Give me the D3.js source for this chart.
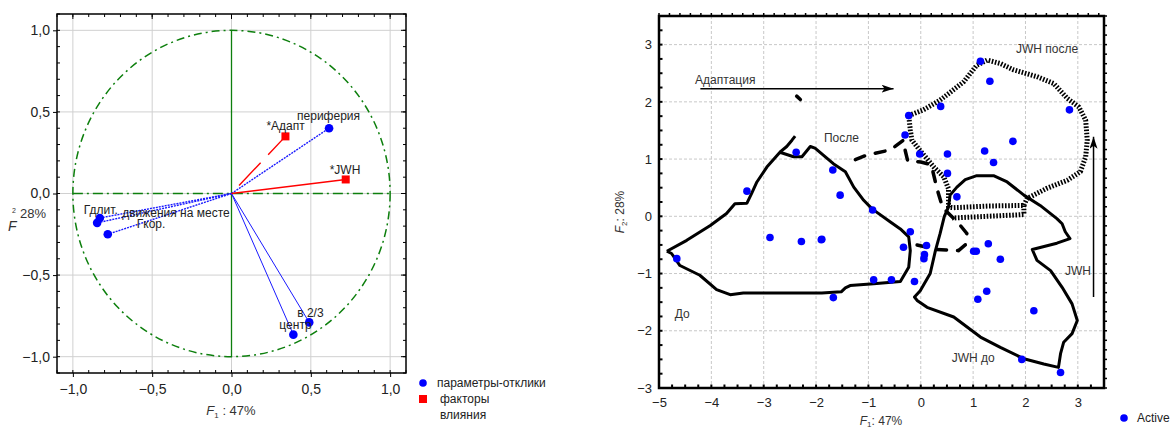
<!DOCTYPE html>
<html><head><meta charset="utf-8">
<script src="https://cdn.jsdelivr.net/npm/d3@7"></script>
<style>
body{margin:0;background:#fff;}
svg{display:block;font-family:"Liberation Sans",Arial,sans-serif;}
</style></head>
<body><svg id="c" width="1172" height="431"></svg>
<script>
// ---------- Left panel data (factor loadings) ----------
const respNames = ["периферия","Гдлит.","движения на месте","Гкор.","в 2/3","центр"];
const respF1 = [0.615,-0.83,-0.847,-0.78,0.49,0.39];
const respF2 = [0.40,-0.15,-0.18,-0.25,-0.79,-0.865];
const factNames = ["*Адапт","*JWH"];
const factF1 = [0.34,0.72];
const factF2 = [0.35,0.086];
const leftTicks = [-1.0,-0.5,0.0,0.5,1.0];
const legendLeft = ["параметры-отклики","факторы","влияния"];

// ---------- Right panel data (scores) ----------
const activeF1 = [1.14,1.32,0.38,2.84,-0.23,-0.30,1.76,1.22,-0.02,0.51,1.39,0.51,0.69,
  -1.68,-1.54,-0.92,-1.89,-0.20,-0.33,0.11,0.06,0.07,-0.90,-0.56,-0.12,-1.67,
  1.01,1.06,1.29,1.52,1.26,1.09,2.16,1.93,2.67,-4.66,-2.88,-2.28,-1.90,-3.32,-2.38];
const activeF2 = [2.71,2.36,1.92,1.86,1.76,1.42,1.31,1.14,1.09,1.09,0.94,0.75,0.34,
  0.81,0.37,0.11,-0.40,-0.27,-0.54,-0.51,-0.74,-0.67,-1.11,-1.11,-1.14,-1.42,
  -0.61,-0.61,-0.48,-0.75,-1.31,-1.45,-1.65,-2.50,-2.73,-0.74,-0.37,-0.44,-0.41,0.44,1.12];
const rightXTicks = [-5,-4,-3,-2,-1,0,1,2,3];
const rightYTicks = [-3,-2,-1,0,1,2,3];

// outlines (F1, F2)
const outlineDo = [[-4.85,-0.61],[-4.47,-0.42],[-4.02,-0.16],[-3.71,0.05],[-3.55,0.22],[-3.32,0.23],[-3.23,0.40],[-3.13,0.60],[-2.94,0.86],[-2.69,1.12],[-2.43,1.04],[-2.27,1.04],[-2.11,1.22],[-2.02,1.19],[-1.67,0.92],[-1.44,0.78],[-1.28,0.51],[-1.09,0.28],[-0.93,0.13],[-0.58,-0.10],[-0.39,-0.22],[-0.23,-0.36],[-0.20,-0.60],[-0.23,-0.89],[-0.39,-1.14],[-0.90,-1.18],[-1.35,-1.21],[-1.44,-1.25],[-1.52,-1.32],[-1.89,-1.34],[-3.39,-1.34],[-3.64,-1.37],[-3.90,-1.28],[-4.22,-1.03],[-4.60,-0.86],[-4.76,-0.65],[-4.85,-0.61]];
const outlineDoStub = [[-2.69,1.12],[-2.56,1.22],[-2.46,1.33],[-2.40,1.40]];
const outlineJwhDo = [[0.56,0.37],[0.69,0.51],[0.85,0.64],[1.07,0.71],[1.39,0.71],[1.65,0.60],[1.97,0.37],[2.28,0.19],[2.60,-0.04],[2.70,-0.13],[2.76,-0.27],[2.85,-0.39],[2.60,-0.47],[2.13,-0.58],[2.22,-0.77],[2.48,-0.95],[2.70,-1.24],[2.89,-1.53],[2.99,-1.82],[2.89,-2.05],[2.73,-2.20],[2.67,-2.40],[2.63,-2.64],[2.35,-2.58],[1.97,-2.49],[1.52,-2.29],[1.14,-2.11],[0.63,-1.76],[0.12,-1.59],[-0.07,-1.47],[-0.12,-1.41],[-0.01,-1.30],[0.18,-1.00],[0.28,-0.60],[0.37,-0.30],[0.45,0.0],[0.53,0.16],[0.56,0.37]];
const outlineAfter = [[-1.25,0.99],[-1.03,1.07],[-0.58,1.16],[-0.33,1.33],[-0.30,1.16],[-0.25,0.97],[0.0,0.95],[0.2,0.9],[0.32,0.45],[0.42,0.15],[0.72,-0.12],[0.88,-0.30],[0.85,-0.50],[0.72,-0.60],[0.30,-0.58],[-0.07,-0.50]];
const outlineAfterBit = [[-2.37,2.10],[-2.30,2.04]];
const outlineJwhAfter = [[-0.23,1.76],[0.05,1.86],[0.37,2.03],[0.82,2.35],[1.07,2.64],[1.27,2.73],[1.52,2.67],[1.77,2.56],[2.22,2.44],[2.54,2.32],[2.80,2.06],[3.02,1.91],[3.15,1.68],[3.18,1.33],[3.15,1.04],[3.05,0.78],[2.80,0.63],[2.41,0.49],[2.03,0.31],[1.97,0.19],[1.30,0.18],[0.62,0.15],[0.53,0.16],[0.53,0.48],[0.44,0.69],[0.25,0.86],[-0.04,1.18],[-0.17,1.33],[-0.20,1.51],[-0.23,1.76]];
const outlineJwhAfterBand = [[1.97,0.19],[1.97,0.03],[1.27,0.0],[0.60,-0.03]];
const arrowAdaptF1 = [-4.21,-0.52], arrowAdaptF2 = [2.23,2.23];
const arrowJwhF1 = [3.30,3.30], arrowJwhF2 = [-1.41,1.39];
const notesText = ["Адаптация","После","JWH после","До","JWH до","JWH"];
const notesF1 = [-4.31,-1.85,1.82,-4.70,0.59,3.25];
const notesF2 = [2.31,1.30,2.86,-1.78,-2.55,-1.03];

const svg = d3.select("#c");
const FONT = "Liberation Sans, Arial, sans-serif";
const comma = v => d3.format(".1f")(v).replace(".",",");

// ================= LEFT PANEL =================
const lx = d3.scaleLinear([-1.1,1.1],[57,406]);
const ly = d3.scaleLinear([-1.1,1.1],[373,14]);
const L = svg.append("g");
L.selectAll(".gx").data(leftTicks).join("line")
  .attr("x1",d=>lx(d)).attr("x2",d=>lx(d)).attr("y1",ly(1.1)).attr("y2",ly(-1.1))
  .attr("stroke","#d0d0d0").attr("stroke-width",1);
L.selectAll(".gy").data(leftTicks).join("line")
  .attr("y1",d=>ly(d)).attr("y2",d=>ly(d)).attr("x1",lx(-1.1)).attr("x2",lx(1.1))
  .attr("stroke","#d0d0d0").attr("stroke-width",1);
const minorL = d3.range(-11,12).map(i=>i/10);
L.selectAll(".mtl").data(minorL).join("line").attr("x1",lx(-1.1)).attr("x2",lx(-1.1)+3).attr("y1",d=>ly(d)).attr("y2",d=>ly(d)).attr("stroke","#000");
L.selectAll(".mtr").data(minorL).join("line").attr("x1",lx(1.1)).attr("x2",lx(1.1)-3).attr("y1",d=>ly(d)).attr("y2",d=>ly(d)).attr("stroke","#000");
L.selectAll(".mtb").data(minorL).join("line").attr("y1",ly(-1.1)).attr("y2",ly(-1.1)-3).attr("x1",d=>lx(d)).attr("x2",d=>lx(d)).attr("stroke","#000");
L.selectAll(".mtt").data(minorL).join("line").attr("y1",ly(1.1)).attr("y2",ly(1.1)+3).attr("x1",d=>lx(d)).attr("x2",d=>lx(d)).attr("stroke","#000");
const laxL = L.append("g").attr("transform",`translate(${lx(-1.1)},0)`)
  .call(d3.axisLeft(ly).tickValues(leftTicks).tickFormat(comma).tickSize(4).tickPadding(3));
const laxB = L.append("g").attr("transform",`translate(0,${ly(-1.1)})`)
  .call(d3.axisBottom(lx).tickValues(leftTicks).tickFormat(comma).tickSize(4).tickPadding(7));
[laxL,laxB].forEach(a=>{a.select(".domain").remove();a.selectAll("text").attr("font-size",14).attr("fill","#222").attr("font-family",FONT);a.selectAll("line").attr("stroke","#000");});
L.selectAll(".Mr").data(leftTicks).join("line").attr("x1",lx(1.1)).attr("x2",lx(1.1)-5).attr("y1",d=>ly(d)).attr("y2",d=>ly(d)).attr("stroke","#000");
L.selectAll(".Mt").data(leftTicks).join("line").attr("y1",ly(1.1)).attr("y2",ly(1.1)+5).attr("x1",d=>lx(d)).attr("x2",d=>lx(d)).attr("stroke","#000");
L.append("rect").attr("x",lx(-1.1)).attr("y",ly(1.1)).attr("width",lx(1.1)-lx(-1.1)).attr("height",ly(-1.1)-ly(1.1))
  .attr("fill","none").attr("stroke","#000").attr("stroke-width",1.5);
const G = "#0d7f0d";
L.append("ellipse").attr("cx",lx(0)).attr("cy",ly(0)).attr("rx",lx(1)-lx(0)).attr("ry",ly(0)-ly(1))
  .attr("fill","none").attr("stroke",G).attr("stroke-width",1.5).attr("stroke-dasharray","8,4,2,4");
L.append("line").attr("x1",lx(-1)).attr("x2",lx(1)).attr("y1",ly(0)).attr("y2",ly(0))
  .attr("stroke",G).attr("stroke-width",1.5).attr("stroke-dasharray","10,4,2,4");
L.append("line").attr("x1",lx(0)).attr("x2",lx(0)).attr("y1",ly(1)).attr("y2",ly(-1))
  .attr("stroke",G).attr("stroke-width",1.3);
const solidResp = new Set(["в 2/3","центр"]);
L.selectAll(".rv").data(respNames).join("line")
  .attr("x1",lx(0)).attr("y1",ly(0)).attr("x2",(d,i)=>lx(respF1[i])).attr("y2",(d,i)=>ly(respF2[i]))
  .attr("stroke","#1a1aff").attr("stroke-width",d=>solidResp.has(d)?1:1.4)
  .attr("stroke-dasharray",d=>solidResp.has(d)?null:"2,1");
factNames.forEach((n,i)=>{
  const x2=lx(factF1[i]), y2=ly(factF2[i]);
  const len=Math.hypot(x2-lx(0),y2-ly(0));
  L.append("line").attr("x1",lx(0)).attr("y1",ly(0)).attr("x2",x2).attr("y2",y2)
   .attr("stroke","#ff0000").attr("stroke-width",1.4)
   .attr("stroke-dasharray", n==="*Адапт" ? `0,${len*0.14},${len*0.4},${len*0.14},${len*0.4}` : null);
});
L.selectAll(".rp").data(respNames).join("circle")
  .attr("cx",(d,i)=>lx(respF1[i])).attr("cy",(d,i)=>ly(respF2[i])).attr("r",4.3).attr("fill","#0000ff");
L.selectAll(".fp").data(factNames).join("rect")
  .attr("x",(d,i)=>lx(factF1[i])-4).attr("y",(d,i)=>ly(factF2[i])-4).attr("width",8).attr("height",8).attr("fill","#ff0000");
const respOff = {"периферия":[-32,-8],"Гдлит.":[-16,-4],"движения на месте":[25,-6],"Гкор.":[29,-6],"в 2/3":[-12,-5],"центр":[-14,-6]};
const factOff = {"*Адапт":[-19,-6],"*JWH":[-16,-5]};
L.selectAll(".rl").data(respNames).join("text")
  .attr("x",(d,i)=>lx(respF1[i])+respOff[d][0]).attr("y",(d,i)=>ly(respF2[i])+respOff[d][1])
  .attr("font-size",12).attr("fill","#222").text(d=>d);
L.selectAll(".fl").data(factNames).join("text")
  .attr("x",(d,i)=>lx(factF1[i])+factOff[d][0]).attr("y",(d,i)=>ly(factF2[i])+factOff[d][1])
  .attr("font-size",12).attr("fill","#222").text(d=>d);
const xt = L.append("text").attr("x",231).attr("y",415).attr("text-anchor","middle").attr("font-size",13).attr("fill","#333");
xt.append("tspan").attr("font-style","italic").text("F");
xt.append("tspan").attr("font-size",8).attr("dy",3).text("1");
xt.append("tspan").attr("dy",-3).text(" : 47%");
L.append("text").attr("x",12).attr("y",213).attr("font-size",7).attr("fill","#333").text("2");
L.append("text").attr("x",20).attr("y",218).attr("font-size",13).attr("fill","#333").text("28%");
L.append("text").attr("x",8).attr("y",231).attr("font-size",14).attr("font-style","italic").attr("fill","#333").text("F");
L.append("circle").attr("cx",423).attr("cy",383).attr("r",3.8).attr("fill","#0000ff");
L.append("rect").attr("x",419).attr("y",395).attr("width",8).attr("height",8).attr("fill","#ff0000");
L.append("text").attr("x",437).attr("y",387).attr("font-size",12).attr("fill","#222").text(legendLeft[0]);
L.append("text").attr("x",440).attr("y",403).attr("font-size",12).attr("fill","#222").text(legendLeft[1]);
L.append("text").attr("x",440).attr("y",419).attr("font-size",12).attr("fill","#222").text(legendLeft[2]);

// ================= RIGHT PANEL =================
const rx = d3.scaleLinear([-5,3.5],[659,1104]);
const ry = d3.scaleLinear([-3,3.5],[388,16]);
const R = svg.append("g");
R.selectAll(".gx").data(rightXTicks.slice(1)).join("line")
  .attr("x1",d=>rx(d)).attr("x2",d=>rx(d)).attr("y1",ry(3.5)).attr("y2",ry(-3))
  .attr("stroke","#c8c8c8").attr("stroke-dasharray","3,2");
R.selectAll(".gy").data(rightYTicks.slice(1)).join("line")
  .attr("y1",d=>ry(d)).attr("y2",d=>ry(d)).attr("x1",rx(-5)).attr("x2",rx(3.5))
  .attr("stroke","#c8c8c8").attr("stroke-dasharray","3,2");
const mxB = d3.range(-20,15).map(i=>i/4), myL = d3.range(-12,15).map(i=>i/4);
const mxT = d3.range(-25,18).map(i=>i/5), myR = d3.range(-18,22).map(i=>i/6);
R.selectAll(".tb").data(mxB).join("line").attr("x1",d=>rx(d)).attr("x2",d=>rx(d)).attr("y1",ry(-3)).attr("y2",ry(-3)-3.5).attr("stroke","#000").attr("stroke-width",2);
R.selectAll(".tl").data(myL).join("line").attr("y1",d=>ry(d)).attr("y2",d=>ry(d)).attr("x1",rx(-5)).attr("x2",rx(-5)+3.5).attr("stroke","#000").attr("stroke-width",2);
R.selectAll(".tt").data(mxT).join("line").attr("x1",d=>rx(d)).attr("x2",d=>rx(d)).attr("y1",ry(3.5)).attr("y2",ry(3.5)-3).attr("stroke","#000").attr("stroke-width",1.5);
R.selectAll(".tr").data(myR).join("line").attr("y1",d=>ry(d)).attr("y2",d=>ry(d)).attr("x1",rx(3.5)).attr("x2",rx(3.5)+3).attr("stroke","#000").attr("stroke-width",1.5);
const raxL = R.append("g").attr("transform",`translate(${rx(-5)},0)`)
  .call(d3.axisLeft(ry).tickValues(rightYTicks).tickFormat(d3.format("d")).tickSize(0).tickPadding(7));
const raxB = R.append("g").attr("transform",`translate(0,${ry(-3)})`)
  .call(d3.axisBottom(rx).tickValues(rightXTicks).tickFormat(d3.format("d")).tickSize(0).tickPadding(10));
[raxL,raxB].forEach(a=>{a.select(".domain").remove();a.selectAll("text").attr("font-size",13).attr("fill","#222").attr("font-family",FONT);});
R.append("rect").attr("x",rx(-5)).attr("y",ry(3.5)).attr("width",rx(3.5)-rx(-5)).attr("height",ry(-3)-ry(3.5))
  .attr("fill","none").attr("stroke","#000").attr("stroke-width",2.5);

const lineS = d3.line().x(d=>rx(d[0])).y(d=>ry(d[1]));
[outlineJwhAfter,outlineJwhAfterBand].forEach(p=>
  R.append("path").attr("d",lineS(p)).attr("fill","none").attr("stroke","#000").attr("stroke-width",5)
   .attr("stroke-dasharray","1.6,1.6").attr("stroke-linejoin","round"));
[outlineAfter,outlineAfterBit].forEach(p=>
  R.append("path").attr("d",lineS(p)).attr("fill","none").attr("stroke","#000").attr("stroke-width",3.5)
   .attr("stroke-dasharray","10,11").attr("stroke-linecap","round"));
[outlineDo,outlineDoStub,outlineJwhDo].forEach(p=>
  R.append("path").attr("d",lineS(p)).attr("fill","none").attr("stroke","#000").attr("stroke-width",3)
   .attr("stroke-linejoin","round"));
const defs = svg.append("defs");
defs.append("marker").attr("id","ah").attr("viewBox","0 0 12 8").attr("refX",12).attr("refY",4)
  .attr("markerWidth",12).attr("markerHeight",8).attr("markerUnits","userSpaceOnUse").attr("orient","auto")
  .append("path").attr("d","M0,0 L12,4 L0,8 L3,4 Z").attr("fill","#000");
R.append("line").attr("x1",rx(arrowAdaptF1[0])).attr("x2",rx(arrowAdaptF1[1])).attr("y1",ry(arrowAdaptF2[0])).attr("y2",ry(arrowAdaptF2[1]))
  .attr("stroke","#000").attr("stroke-width",1.5).attr("marker-end","url(#ah)");
R.append("line").attr("x1",rx(arrowJwhF1[0])).attr("x2",rx(arrowJwhF1[1])).attr("y1",ry(arrowJwhF2[0])).attr("y2",ry(arrowJwhF2[1]))
  .attr("stroke","#000").attr("stroke-width",1.5).attr("marker-end","url(#ah)");
R.selectAll(".ap").data(activeF1).join("circle")
  .attr("cx",d=>rx(d)).attr("cy",(d,i)=>ry(activeF2[i])).attr("r",3.8).attr("fill","#0000ff");
R.selectAll(".nt").data(notesText).join("text")
  .attr("x",(d,i)=>rx(notesF1[i])).attr("y",(d,i)=>ry(notesF2[i]))
  .attr("text-anchor",d=>d==="JWH"?"end":"start")
  .attr("font-size",12).attr("fill","#333").text(d=>d);
const rxt = R.append("text").attr("x",881).attr("y",425).attr("text-anchor","middle").attr("font-size",12).attr("fill","#333");
rxt.append("tspan").attr("font-style","italic").text("F");
rxt.append("tspan").attr("font-size",8).attr("dy",2).text("1");
rxt.append("tspan").attr("dy",-2).text(": 47%");
const ryt = R.append("text").attr("transform","translate(624,212) rotate(-90)").attr("text-anchor","middle").attr("font-size",12).attr("fill","#333");
ryt.append("tspan").attr("font-style","italic").text("F");
ryt.append("tspan").attr("font-size",8).attr("dy",3).text("2");
ryt.append("tspan").attr("dy",-3).text(": 28%");
R.append("circle").attr("cx",1124).attr("cy",418).attr("r",3.8).attr("fill","#0000ff");
R.append("text").attr("x",1137).attr("y",422).attr("font-size",12).attr("fill","#222").text("Active");
</script></body></html>
